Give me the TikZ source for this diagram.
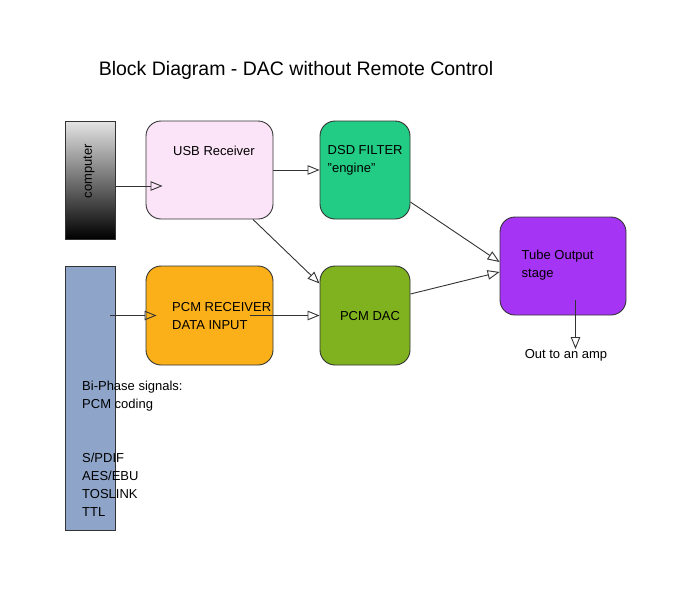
\documentclass[tikz,border=0pt]{standalone}
\usepackage{fontspec}
\setmainfont{Liberation Sans}
\usetikzlibrary{arrows.meta,calc}
\definecolor{blockline}{HTML}{333333}
\definecolor{compgray}{HTML}{E4E4E4}
\definecolor{usbpink}{HTML}{FCE4F8}
\definecolor{dsdgreen}{HTML}{22CC84}
\definecolor{dacgreen}{HTML}{7FB21E}
\definecolor{pcmorange}{HTML}{FBB01A}
\definecolor{tubepurple}{HTML}{A534F4}
\definecolor{phaseblue}{HTML}{8EA5C9}
\tikzset{
  block/.style={draw=blockline, line width=0.9pt, rounded corners=15pt, inner sep=0pt},
  bar/.style={draw=blockline, line width=0.9pt, inner sep=0pt},
  link/.style={blockline, line width=0.9pt, -{Triangle[open, length=12pt, width=9.5pt]}},
  txt/.style={inner sep=0pt, align=left, font=\fontsize{13}{18}\selectfont},
  titletxt/.style={inner sep=0pt, font=\fontsize{19.5}{22}\selectfont}
}
\begin{document}
\begin{tikzpicture}[x=1pt, y=-1pt]
  \useasboundingbox (0,0) rectangle (691,600);
  \node[titletxt] (title) at (296,70) {Block Diagram - DAC without Remote Control};
  % sources
  \node[bar, top color=compgray, bottom color=black, minimum width=50pt, minimum height=118pt] (comp) at (90,180) {};
  \node[txt, rotate=90] (comptxt) at (89,171) {computer};
  \node[bar, fill=phaseblue, minimum width=50pt, minimum height=264pt] (biphase) at (90,398) {};
  % blocks
  \node[block, fill=usbpink, minimum width=127pt, minimum height=98pt] (usb) at (209.5,170) {};
  \node[block, fill=dsdgreen, minimum width=90pt, minimum height=98pt] (dsd) at (365,170) {};
  \node[block, fill=pcmorange, minimum width=127pt, minimum height=99pt] (pcmrx) at (209.5,315.5) {};
  \node[block, fill=dacgreen, minimum width=90pt, minimum height=99pt] (dac) at (365,315.5) {};
  \node[block, fill=tubepurple, minimum width=126pt, minimum height=98pt] (tube) at (563,266) {};
  % texts
  \node[txt] (usbtxt) at (214,151) {USB Receiver};
  \node[txt, anchor=west] (dsdtxt) at (327.5,160) {DSD FILTER\\\symbol{34}engine\symbol{34}};
  \node[txt, anchor=west] (pcmrxtxt) at (172,316.5) {PCM RECEIVER\\DATA INPUT};
  \node[txt] (dactxt) at (370,316.5) {PCM DAC};
  \node[txt, anchor=west] (tubetxt) at (521.5,265.5) {Tube Output\\stage};
  \node[txt, anchor=north] (out) at (566,349) {Out to an amp};
  \node[txt, anchor=west] (phasetxt) at (82,396) {Bi-Phase signals:\\PCM coding};
  \node[txt, anchor=west] (linktxt) at (82,485) {S/PDIF\\AES/EBU\\TOSLINK\\TTL};
  % connectors
  \draw[link] ([yshift=-6pt]comp.east) -- ([xshift=17pt, yshift=-16pt]usb.west);
  \draw[link] (usb.east) -- (dsd.west);
  \draw[link] ([xshift=43.5pt]usb.south) -- ([yshift=32pt]dac.west);
  \draw[link] ([yshift=-32pt]dsd.east) -- ([yshift=4pt]tube.west);
  \draw[link] ([yshift=21.5pt]dac.east) -- ([yshift=-6pt]tube.west);
  \draw[link] ($(biphase.east |- pcmrx.west)+(-5,0)$) -- ([xshift=11pt]pcmrx.west);
  \draw[link] ([xshift=40pt]pcmrx.center) -- (dac.west);
  \draw[link] ([xshift=12.5pt, yshift=-34pt]tube.center) -- (out.north -| {$(tube.center)+(12.5,0)$});
\end{tikzpicture}
\end{document}
